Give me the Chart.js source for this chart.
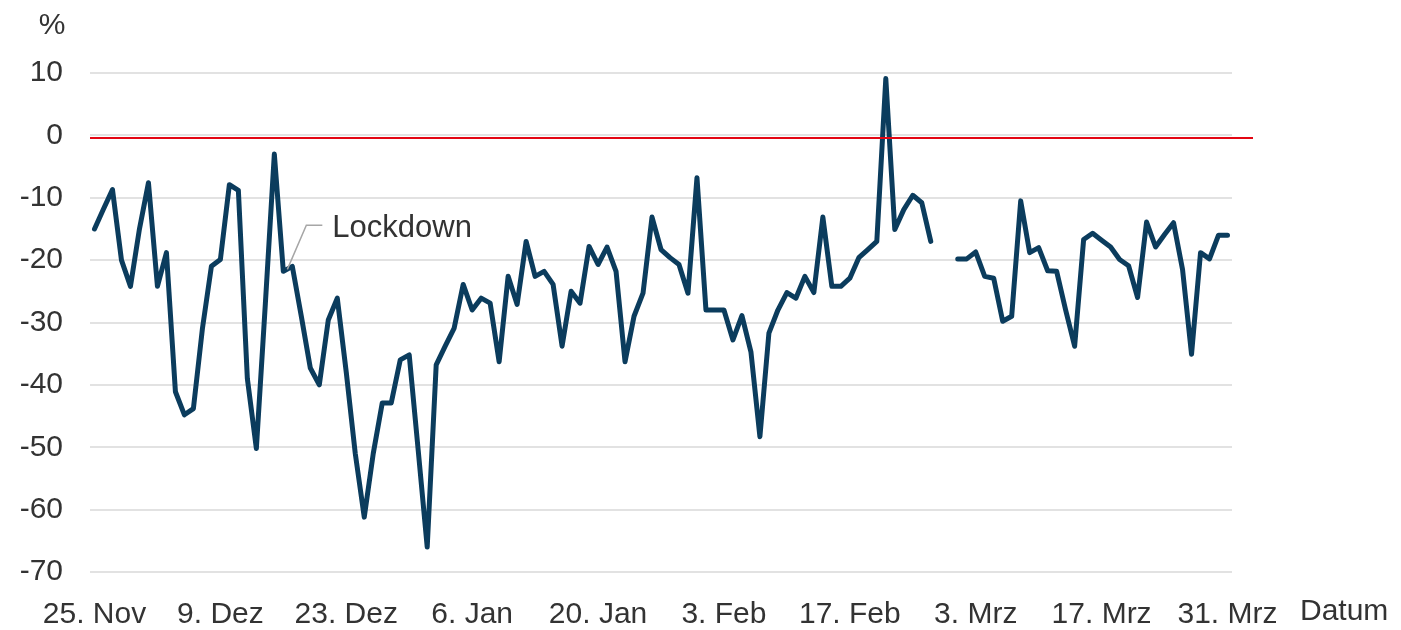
<!DOCTYPE html>
<html>
<head>
<meta charset="utf-8">
<script src="https://cdn.jsdelivr.net/npm/chart.js@4.4.0/dist/chart.umd.min.js"></script>
<style>
  html, body { margin: 0; padding: 0; background: #fff; }
  #wrap { width: 1401px; height: 630px; }
</style>
</head>
<body>
<div id="wrap"><canvas id="chart" width="1401" height="630"></canvas></div>
<script>
// Tagesänderung in %, 25. Nov 2020 bis 31. Mrz 2021
const values = [
  -15.0, -11.8, -8.7, -20.0, -24.2, -15.0, -7.6, -24.2, -18.8, -41.1,
  -44.8, -43.8, -31.0, -21.0, -19.9, -7.9, -8.8, -39.0, -50.2, -27.0,
  -3.0, -21.8, -21.0, -29.0, -37.3, -40.0, -29.6, -26.1, -38.0, -51.0,
  -61.2, -51.0, -42.9, -42.9, -36.0, -35.2, -50.5, -66.0, -36.8, -33.8,
  -30.9, -23.9, -28.0, -26.1, -26.9, -36.3, -22.6, -27.1, -17.0, -22.6,
  -21.8, -23.9, -33.8, -25.0, -26.9, -17.8, -20.7, -17.9, -21.8, -36.3,
  -29.0, -25.3, -13.1, -18.3, -19.6, -20.7, -25.3, -6.8, -28.0, -28.0,
  -28.0, -32.8, -28.9, -34.7, -48.3, -31.7, -28.0, -25.2, -26.1, -22.6,
  -25.2, -13.1, -24.2, -24.2, -22.9, -19.6, -18.3, -17.0, 9.1, -15.1,
  -11.9, -9.6, -10.8, -17.0, null, null, -19.8, -19.8, -18.7, -22.6,
  -22.9, -29.8, -29.0, -10.5, -18.8, -18.0, -21.7, -21.8, -28.0, -33.8,
  -16.7, -15.7, -16.8, -17.9, -19.9, -20.9, -26.0, -13.9, -17.9, -15.9,
  -14.0, -21.5, -35.1, -18.8, -19.8, -16.0, -16.0
];

const tickLabels = ['25. Nov', '9. Dez', '23. Dez', '6. Jan', '20. Jan',
  '3. Feb', '17. Feb', '3. Mrz', '17. Mrz', '31. Mrz'];
const tickEvery = 14;
const yTicks = [10, 0, -10, -20, -30, -40, -50, -60, -70];

const monthNames = ['Jan', 'Feb', 'Mrz', 'Apr', 'Mai', 'Jun', 'Jul', 'Aug', 'Sep', 'Okt', 'Nov', 'Dez'];
const categories = values.map((v, i) => {
  const d = new Date(2020, 10, 25 + i);
  return d.getDate() + '. ' + monthNames[d.getMonth()];
});

const lockdownIndex = 21;
const lockdownText = 'Lockdown';

const FONT = '"Liberation Sans", Arial, Helvetica, sans-serif';
const TEXT = '#333333';

// Nulllinie, Achsentitel und Hinweis
const extras = {
  id: 'extras',
  afterDatasetsDraw(chart) {
    const { ctx, chartArea, scales } = chart;
    const x = scales.x, y = scales.y;
    ctx.save();

    const y0 = y.getPixelForValue(0) + 2.5;
    ctx.strokeStyle = '#e30613';
    ctx.lineWidth = 2;
    ctx.beginPath();
    ctx.moveTo(chartArea.left, y0);
    ctx.lineTo(chartArea.right + 21, y0);
    ctx.stroke();

    ctx.font = '30px ' + FONT;
    ctx.fillStyle = TEXT;
    ctx.textBaseline = 'middle';
    ctx.textAlign = 'center';
    ctx.fillText('%', 52, 26);

    ctx.textAlign = 'left';
    ctx.fillText('Datum', chartArea.right + 68, 612);

    // Lockdown-Markierung
    const px = x.getPixelForValue(lockdownIndex) + 4;
    const py = y.getPixelForValue(values[lockdownIndex]) - 2;
    const ly = y.getPixelForValue(-14.4);
    ctx.strokeStyle = '#a6a6a6';
    ctx.lineWidth = 1.5;
    ctx.beginPath();
    ctx.moveTo(px, py);
    ctx.lineTo(px + 19, ly);
    ctx.lineTo(px + 35, ly);
    ctx.stroke();
    ctx.font = '31px ' + FONT;
    ctx.fillText(lockdownText, px + 45, ly + 3);

    ctx.restore();
  }
};

new Chart(document.getElementById('chart').getContext('2d'), {
  type: 'line',
  data: {
    labels: categories,
    datasets: [{
      data: values,
      borderColor: '#0b3c5d',
      borderWidth: 5,
      borderJoinStyle: 'round',
      borderCapStyle: 'round',
      pointRadius: 0,
      tension: 0,
      spanGaps: false,
      fill: false
    }]
  },
  options: {
    responsive: false,
    animation: false,
    layout: { padding: { top: 73, right: 169, bottom: 0, left: 0 } },
    plugins: {
      legend: { display: false },
      tooltip: { enabled: false }
    },
    scales: {
      x: {
        type: 'category',
        offset: true,
        grid: { display: false },
        border: { display: false },
        afterFit: s => { s.height = 58; },
        ticks: {
          autoSkip: false,
          maxRotation: 0,
          padding: 17,
          color: TEXT,
          font: { family: FONT, size: 30 },
          callback: (val, index) => index % tickEvery === 0 ? tickLabels[index / tickEvery] : null
        }
      },
      y: {
        min: -70,
        max: 10,
        afterFit: s => { s.width = 90; },
        afterBuildTicks: s => { s.ticks = yTicks.map(v => ({ value: v })); },
        grid: { color: '#e2e2e2', lineWidth: 2, drawTicks: false },
        border: { display: false },
        ticks: {
          padding: 27,
          color: TEXT,
          font: { family: FONT, size: 30 }
        }
      }
    }
  },
  plugins: [extras]
});
</script>
</body>
</html>
